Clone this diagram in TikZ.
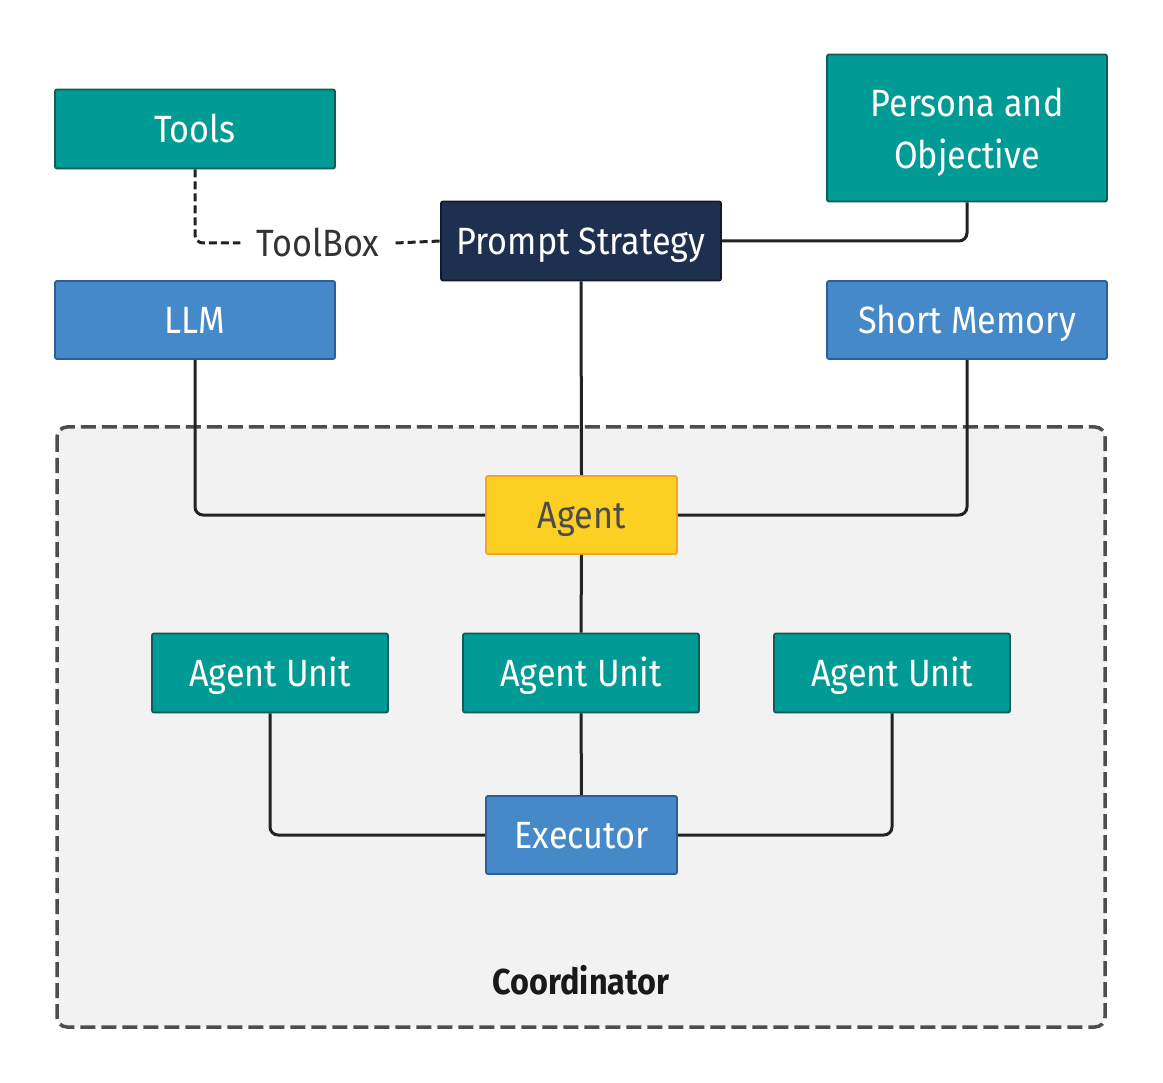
\documentclass[tikz,border=0pt]{standalone}
\usepackage{fontspec}
\setmainfont[FakeStretch=0.9]{Fira Sans}
\usetikzlibrary{positioning}
\definecolor{teal1}{HTML}{009B94}
\definecolor{teal2}{HTML}{0E5B57}
\definecolor{blue1}{HTML}{4689C8}
\definecolor{blue2}{HTML}{2C5F9A}
\definecolor{navy1}{HTML}{1E3050}
\definecolor{navy2}{HTML}{111A2C}
\definecolor{yel1}{HTML}{FBD022}
\definecolor{yel2}{HTML}{F5A623}
\definecolor{bg1}{HTML}{F2F2F2}
\definecolor{cont}{HTML}{4D4D4D}
\definecolor{lin}{HTML}{222222}
\tikzset{
  box/.style={rectangle, rounded corners=2pt, line width=1.8pt, inner sep=0pt,
    font=\fontsize{38}{40}\selectfont, text=white, text height=27pt, text depth=0pt},
  tealbox/.style={box, fill=teal1, draw=teal2},
  bluebox/.style={box, fill=blue1, draw=blue2},
  navybox/.style={box, fill=navy1, draw=navy2},
  yelbox/.style={box, fill=yel1, draw=yel2, text=black!70},
  conn/.style={draw=lin, line width=3pt, rounded corners=8pt},
  dconn/.style={conn, dash pattern=on 8pt off 4pt},
}
\begin{document}
\begin{tikzpicture}[x=1pt,y=-1pt]
\useasboundingbox (0,0) rectangle (1163,1083);
\fill[white] (0,0) rectangle (1163,1083);
% container
\draw[fill=bg1, draw=cont, line width=3.5pt, dash pattern=on 15pt off 6pt, rounded corners=10pt]
  (57,427) rectangle (1105,1027);
\node[font=\bfseries\fontsize{36}{40}\selectfont, text=black!90] (coord) at (581,980) {Coordinator};
% nodes
\node[tealbox, minimum width=280pt, minimum height=147pt, align=center,
  font=\fontsize{38}{52}\selectfont, text height=, text depth=0pt] (persona) at (967,128) {Persona and\\Objective};
\node[tealbox, minimum width=280pt, minimum height=79pt] (tools) at (195,129) {Tools};
\node[navybox, minimum width=280pt, minimum height=79pt] (prompt) at (581,241) {Prompt Strategy};
\node[bluebox, minimum width=280pt, minimum height=78pt] (llm) at (195,320) {LLM};
\node[bluebox, minimum width=280pt, minimum height=78pt] (mem) at (967,320) {Short Memory};
\node[yelbox, minimum width=191pt, minimum height=78pt] (agent) at (581.5,515) {Agent};
\node[tealbox, minimum width=236pt, minimum height=79pt] (au1) at (270,673) {Agent Unit};
\node[tealbox, minimum width=236pt, minimum height=79pt] (au2) at (581,673) {Agent Unit};
\node[tealbox, minimum width=236pt, minimum height=79pt] (au3) at (892,673) {Agent Unit};
\node[bluebox, minimum width=191pt, minimum height=78pt] (exec) at (581.5,835) {Executor};
\node[font=\fontsize{38}{40}\selectfont, text=black!80, inner sep=0pt, text height=27pt, text depth=0pt] (toolbox) at (318,243) {ToolBox};
\coordinate (tbl) at ([xshift=-16pt]toolbox.west);
\coordinate (tbr) at ([xshift=16pt]toolbox.east);
% connectors
\draw[dconn] (tools.south) |- (tbl);
\draw[dconn] (tbr) -- (prompt.west);
\draw[conn] (prompt.east) -| (persona.south);
\draw[conn] (prompt.south) -- (agent.north);
\draw[conn] (llm.south) |- (agent.west);
\draw[conn] (mem.south) |- (agent.east);
\draw[conn] (agent.south) -- (au2.north);
\draw[conn] (au1.south) |- (exec.west);
\draw[conn] (au2.south) -- (exec.north);
\draw[conn] (au3.south) |- (exec.east);
\end{tikzpicture}
\end{document}
